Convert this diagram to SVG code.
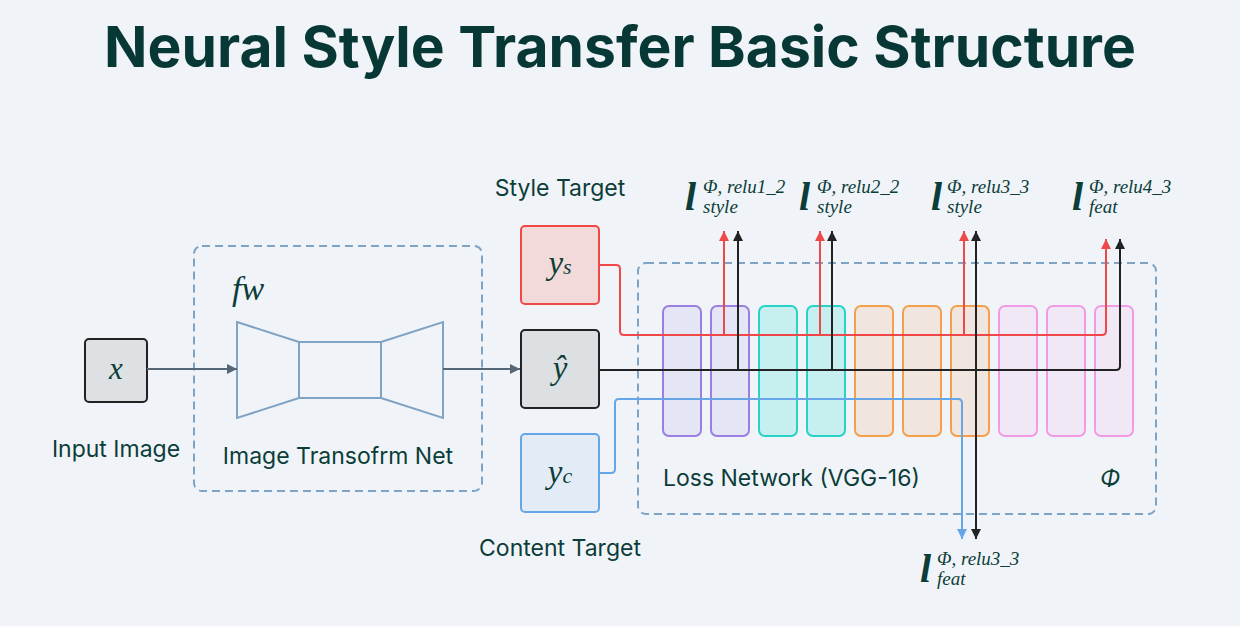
<svg xmlns="http://www.w3.org/2000/svg" width="1240" height="626" viewBox="0 0 1240 626">
<defs>
<marker id="ag" viewBox="0 0 10 10" refX="10" refY="5" markerWidth="10" markerHeight="10" markerUnits="userSpaceOnUse" orient="auto"><path d="M0,0 L10,5 L0,10 z" fill="#556677"/></marker>
<marker id="ar" viewBox="0 0 10 10" refX="10" refY="5" markerWidth="10" markerHeight="10" markerUnits="userSpaceOnUse" orient="auto"><path d="M0,0 L10,5 L0,10 z" fill="#f04848"/></marker>
<marker id="ak" viewBox="0 0 10 10" refX="10" refY="5" markerWidth="10" markerHeight="10" markerUnits="userSpaceOnUse" orient="auto"><path d="M0,0 L10,5 L0,10 z" fill="#222222"/></marker>
<marker id="ab" viewBox="0 0 10 10" refX="10" refY="5" markerWidth="10" markerHeight="10" markerUnits="userSpaceOnUse" orient="auto"><path d="M0,0 L10,5 L0,10 z" fill="#66a6e8"/></marker>
</defs>
<style>
.t{font-family:Inter,"Liberation Sans",sans-serif;fill:#0c3d38}
.lbl{font-size:23px}
.m{font-family:"Liberation Serif","DejaVu Serif",serif;font-style:italic;fill:#0c3d38}
.dash{fill:none;stroke:#7fa3c4;stroke-width:2;stroke-dasharray:8 5}
.bt{fill:none;stroke:#7fa3c4;stroke-width:2}
.lp{fill:#e5e6f5;stroke:#9a7fe0;stroke-width:2}
.lc{fill:#c8efef;stroke:#25d3c8;stroke-width:2}
.lo{fill:#f1e6df;stroke:#f4a04a;stroke-width:2}
.lk{fill:#f1e8f5;stroke:#f19be6;stroke-width:2}
.cr{fill:none;stroke:#f04848;stroke-width:2}
.ck{fill:none;stroke:#222;stroke-width:2}
.cb{fill:none;stroke:#66a6e8;stroke-width:2}
.cg{fill:none;stroke:#556677;stroke-width:2}
</style>
<rect width="1240" height="626" fill="#f0f4f9"/>
<text x="620" y="67" text-anchor="middle" class="t" style="font-size:57px;font-weight:700;fill:#083835">Neural Style Transfer Basic Structure</text>

<g id="transform-net">
<rect x="194" y="246" width="288" height="245" rx="8" class="dash"/>
<text x="232" y="300" class="m" font-size="34">fw</text>
<path d="M237,322 L299,342 L299,398 L237,418 Z" class="bt"/>
<rect x="299" y="342" width="82" height="56" class="bt"/>
<path d="M381,342 L443,322 L443,418 L381,398 Z" class="bt"/>
<text x="338" y="464" text-anchor="middle" class="t lbl">Image Transofrm Net</text>
</g>

<g id="loss-net">
<rect x="638" y="263" width="518" height="251" rx="8" class="dash"/>
<rect x="663" y="306" width="38" height="130" rx="6" class="lp"/>
<rect x="711" y="306" width="38" height="130" rx="6" class="lp"/>
<rect x="759" y="306" width="38" height="130" rx="6" class="lc"/>
<rect x="807" y="306" width="38" height="130" rx="6" class="lc"/>
<rect x="855" y="306" width="38" height="130" rx="6" class="lo"/>
<rect x="903" y="306" width="38" height="130" rx="6" class="lo"/>
<rect x="951" y="306" width="38" height="130" rx="6" class="lo"/>
<rect x="999" y="306" width="38" height="130" rx="6" class="lk"/>
<rect x="1047" y="306" width="38" height="130" rx="6" class="lk"/>
<rect x="1095" y="306" width="38" height="130" rx="6" class="lk"/>
<text x="663" y="486" class="t lbl">Loss Network (VGG-16)</text>
<text x="1110" y="486" text-anchor="middle" class="t" style="font-size:23px;font-style:italic">Φ</text>
</g>

<g id="input">
<rect x="85" y="339" width="62" height="63" rx="4" fill="#dee1e3" stroke="#222" stroke-width="2"/>
<text x="116" y="379" text-anchor="middle" class="m" font-size="31">x</text>
<text x="116" y="457" text-anchor="middle" class="t lbl">Input Image</text>
</g>

<g id="style-target">
<rect x="521" y="226" width="78" height="78" rx="4" fill="#f2dada" stroke="#f04848" stroke-width="2"/>
<text x="560" y="274" text-anchor="middle" class="m" font-size="33">y<tspan font-size="22">s</tspan></text>
<text x="560" y="196" text-anchor="middle" class="t lbl">Style Target</text>
</g>

<g id="output">
<rect x="521" y="330" width="78" height="78" rx="4" fill="#dde0e2" stroke="#222" stroke-width="2"/>
<text x="560" y="379" text-anchor="middle" class="m" font-size="33">ŷ</text>
</g>

<g id="content-target">
<rect x="521" y="434" width="78" height="78" rx="4" fill="#e3ecf6" stroke="#66a6e8" stroke-width="2"/>
<text x="560" y="483" text-anchor="middle" class="m" font-size="33">y<tspan font-size="22">c</tspan></text>
<text x="560" y="556" text-anchor="middle" class="t lbl">Content Target</text>
</g>

<g id="loss-labels" class="m">
<text x="685" y="210" font-size="40" font-weight="700">l</text>
<text x="703" y="193" font-size="19">Φ, relu1_2</text>
<text x="703" y="213" font-size="19">style</text>
<text x="799" y="210" font-size="40" font-weight="700">l</text>
<text x="817" y="193" font-size="19">Φ, relu2_2</text>
<text x="817" y="213" font-size="19">style</text>
<text x="931" y="210" font-size="40" font-weight="700">l</text>
<text x="947" y="193" font-size="19">Φ, relu3_3</text>
<text x="947" y="213" font-size="19">style</text>
<text x="1072" y="210" font-size="40" font-weight="700">l</text>
<text x="1089" y="193" font-size="19">Φ, relu4_3</text>
<text x="1089" y="213" font-size="19">feat</text>
<text x="920" y="582" font-size="40" font-weight="700">l</text>
<text x="937" y="565" font-size="19">Φ, relu3_3</text>
<text x="937" y="585" font-size="19">feat</text>
</g>

<g id="connectors">
<path d="M147,369 L237,369" class="cg" marker-end="url(#ag)"/>
<path d="M443,369 L520,369" class="cg" marker-end="url(#ag)"/>
<path d="M599,265 L616,265 Q620,265 620,269 L620,331 Q620,335 624,335 L1102,335 Q1106,335 1106,331 L1106,239" class="cr" marker-end="url(#ar)"/>
<path d="M724,335 L724,231" class="cr" marker-end="url(#ar)"/>
<path d="M820,335 L820,231" class="cr" marker-end="url(#ar)"/>
<path d="M964,335 L964,231" class="cr" marker-end="url(#ar)"/>
<path d="M599,370 L1116,370 Q1120,370 1120,366 L1120,239" class="ck" marker-end="url(#ak)"/>
<path d="M738,370 L738,231" class="ck" marker-end="url(#ak)"/>
<path d="M832,370 L832,231" class="ck" marker-end="url(#ak)"/>
<path d="M976,370 L976,231" class="ck" marker-end="url(#ak)"/>
<path d="M976,370 L976,539" class="ck" marker-end="url(#ak)"/>
<path d="M599,473 L611,473 Q615,473 615,469 L615,403 Q615,399 619,399 L958,399 Q962,399 962,403 L962,539" class="cb" marker-end="url(#ab)"/>
</g>
</svg>
